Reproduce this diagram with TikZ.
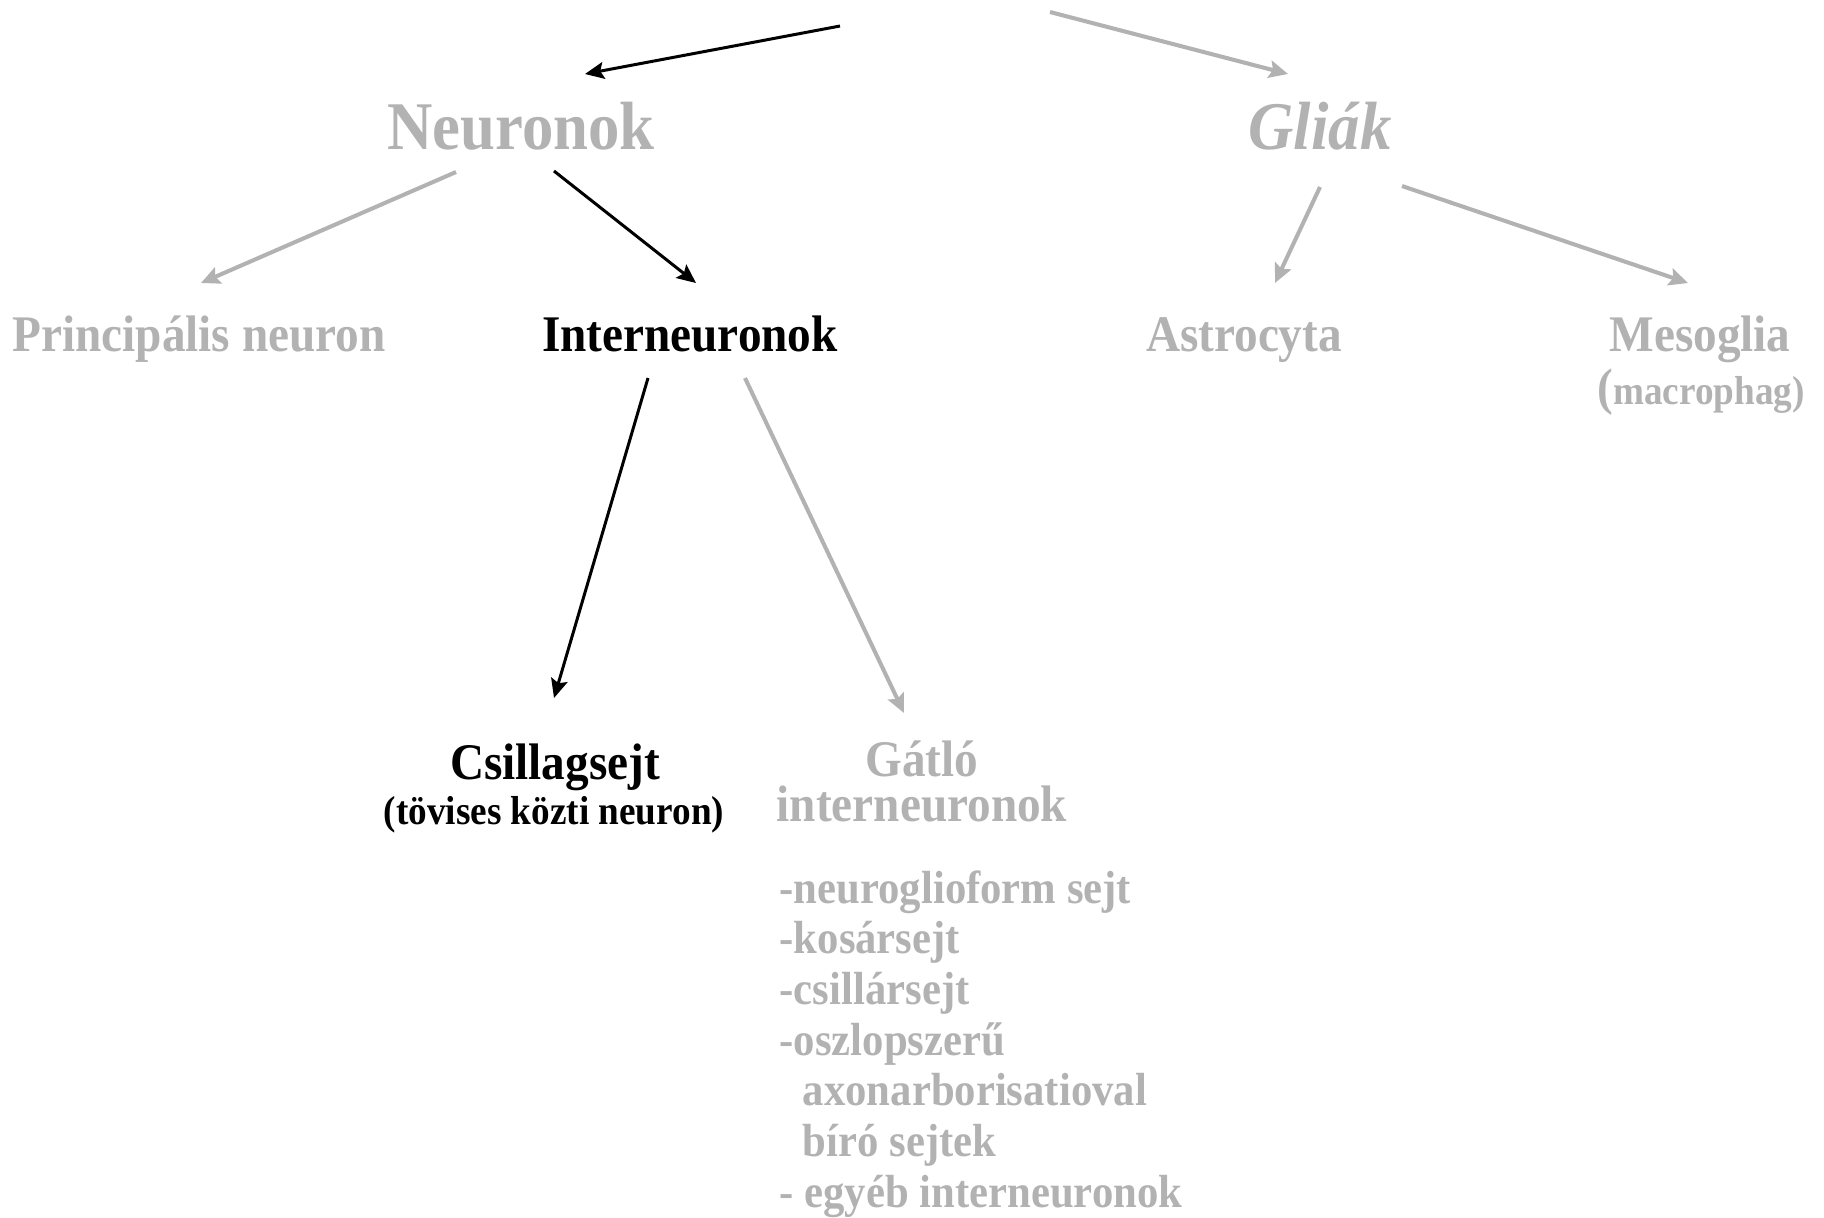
\documentclass[tikz,border=0pt]{standalone}
\usepackage{fontspec}
\setmainfont{Liberation Serif}[FakeStretch=0.92]
\usetikzlibrary{arrows.meta}
\definecolor{lgray}{RGB}{178,178,178}
\tikzset{
  txt/.style={inner sep=0, anchor=base},
  big/.style={txt, font=\fontsize{19.4}{23}\selectfont\bfseries},
  mid/.style={txt, font=\fontsize{14.6}{17}\selectfont\bfseries},
  small/.style={txt, font=\fontsize{11.5}{14}\selectfont\bfseries},
  faded/.style={text=lgray},
  blk/.style={draw=black, line width=0.85pt, -{Stealth[length=5.4pt,width=4.8pt,inset=1pt]}},
  gry/.style={draw=lgray, line width=1.15pt, -{Stealth[length=5.4pt,width=5pt,inset=1pt]}},
}
\begin{document}
\begin{tikzpicture}[x=0.01cm, y=-0.01cm]
\useasboundingbox (0,0) rectangle (1824,1217);
% level 1
\node[big, faded] (neur) at (521,149) {Neuronok};
\node[big, faded, font=\fontsize{19.4}{23}\selectfont\bfseries\itshape] (glia) at (1320,149) {Gliák};
% level 2
\node[mid, faded] (princ) at (199,351) {Principális neuron};
\node[mid] (inter) at (690,351) {Interneuronok};
\node[mid, faded] (astro) at (1244,351) {Astrocyta};
\node[mid, faded] (meso) at (1700,351) {Mesoglia};
\node[small, faded] (macro) at (1701,404) {{\fontsize{14.6}{17}\selectfont(}macrophag)};
% level 3
\node[mid] (csill) at (555,779) {Csillagsejt};
\node[small] (csillsub) at (554,824) {(tövises közti neuron)};
\node[mid, faded, align=center, font=\fontsize{14.6}{12.8}\selectfont\bfseries] (gatlo) at (922,821) {Gátló\\interneuronok};
\node[faded, inner sep=0, anchor=base west, align=left, font=\fontsize{13.2}{14.4}\selectfont\bfseries] (list) at (779,1207)
  {-neuroglioform sejt\\-kosársejt\\-csillársejt\\-oszlopszerű\\\hspace*{0.5em}axonarborisatioval\\\hspace*{0.5em}bíró sejtek\\- egyéb interneuronok};
% arrow end points
\coordinate (r1) at (840,26);   \coordinate (neurTop) at (585,74);
\coordinate (r2) at (1050,12);  \coordinate (gliaTop) at (1288,74);
\coordinate (n1) at (456,172);  \coordinate (princTop) at (201,283);
\coordinate (n2) at (554,171);  \coordinate (interTop) at (696,283);
\coordinate (g1) at (1320,187); \coordinate (astroTop) at (1275,283);
\coordinate (g2) at (1402,186); \coordinate (mesoTop) at (1688,283);
\coordinate (i1) at (648,378);  \coordinate (csillTop) at (554,698);
\coordinate (i2) at (745,378);  \coordinate (gatloTop) at (904,713);
% connectors
\draw[blk] (r1) -- (neurTop);
\draw[gry] (r2) -- (gliaTop);
\draw[gry] (n1) -- (princTop);
\draw[blk] (n2) -- (interTop);
\draw[gry] (g1) -- (astroTop);
\draw[gry] (g2) -- (mesoTop);
\draw[blk] (i1) -- (csillTop);
\draw[gry] (i2) -- (gatloTop);
\end{tikzpicture}
\end{document}
